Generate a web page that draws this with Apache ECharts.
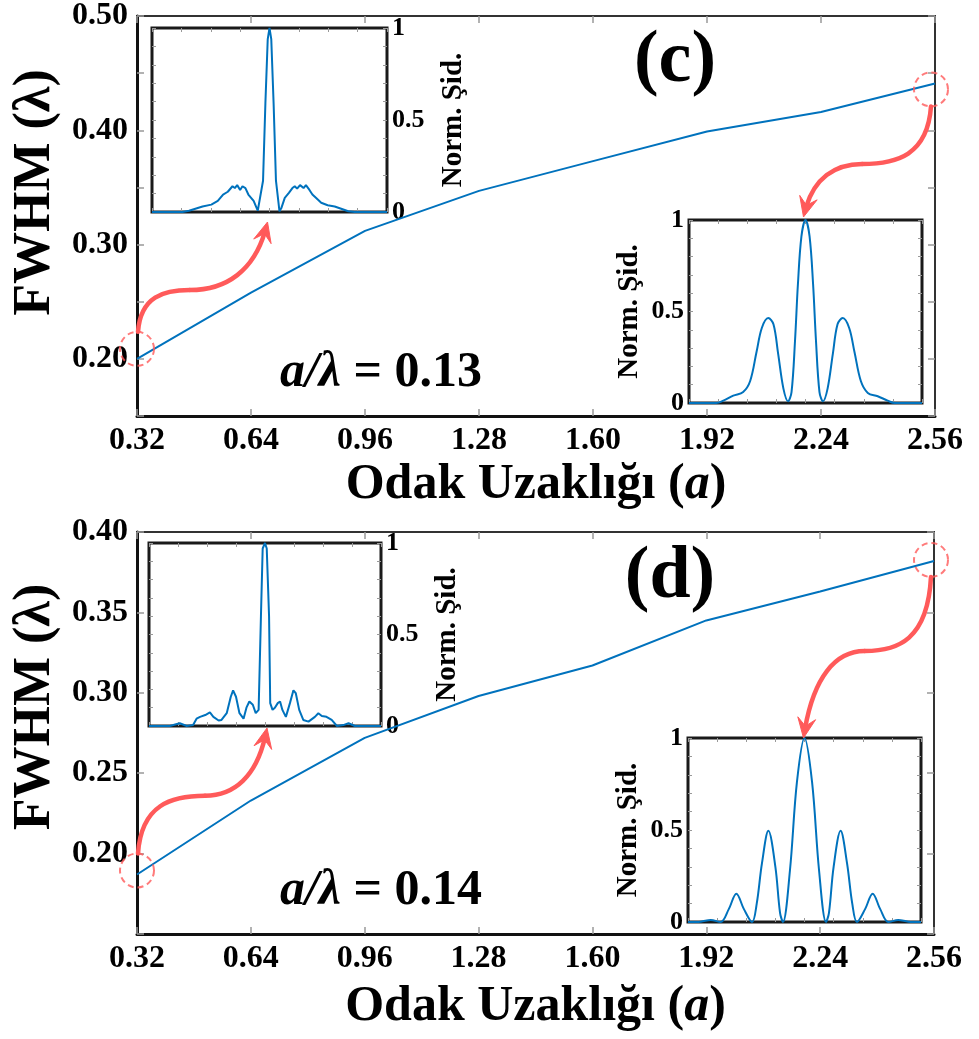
<!DOCTYPE html>
<html>
<head>
<meta charset="utf-8">
<title>FWHM - Odak Uzaklığı</title>
<script src="https://cdn.jsdelivr.net/npm/echarts@6/dist/echarts.min.js"></script>
<style>
  html, body { margin: 0; padding: 0; background: #fff; }
  #main { width: 979px; height: 1039px; }
</style>
</head>
<body>
<div id="main"></div>
<script>
// focal distance (a) and FWHM (lambda) for both panels
const focalDist = [0.32, 0.64, 0.96, 1.28, 1.60, 1.92, 2.24, 2.56];
const fwhmC = [0.200, 0.258, 0.312, 0.347, 0.373, 0.399, 0.416, 0.441];
const fwhmD = [0.187, 0.233, 0.272, 0.298, 0.317, 0.345, 0.363, 0.382];

// inset intensity profiles (normalised), x across the focal spot
const profC1X = [-2.0, -1.48, -1.37, -1.14, -0.99, -0.88, -0.79, -0.71, -0.63, -0.59, -0.55, -0.50, -0.46, -0.41, -0.36, -0.27, -0.20, -0.17, -0.11, -0.07, -0.03, 0,
                 0.03, 0.07, 0.11, 0.17, 0.20, 0.26, 0.33, 0.39, 0.43, 0.47, 0.52, 0.58, 0.62, 0.68, 0.73, 0.79, 0.88, 0.99, 1.11, 1.22, 1.34, 1.45, 2.0];
const profC1Y = [0, 0, 0.007, 0.03, 0.04, 0.06, 0.095, 0.11, 0.14, 0.13, 0.146, 0.12, 0.14, 0.13, 0.095, 0.06, 0.007, 0.004, 0.17, 0.59, 0.94, 1.0,
                 0.94, 0.59, 0.17, 0.004, 0.02, 0.077, 0.104, 0.13, 0.14, 0.127, 0.146, 0.13, 0.146, 0.12, 0.095, 0.077, 0.05, 0.037, 0.03, 0.018, 0.004, 0, 0];

const profC2X = [-2.0, -1.53, -1.41, -1.24, -1.07, -0.95, -0.84, -0.75, -0.64, -0.55, -0.47, -0.38, -0.30, -0.24, -0.18, -0.13, -0.07, 0,
                 0.07, 0.13, 0.18, 0.24, 0.30, 0.38, 0.47, 0.55, 0.64, 0.75, 0.84, 0.95, 1.07, 1.24, 1.41, 1.53, 2.0];
const profC2Y = [0, 0, 0.013, 0.04, 0.06, 0.12, 0.28, 0.41, 0.464, 0.43, 0.27, 0.08, 0.01, 0.06, 0.34, 0.65, 0.91, 1.0,
                 0.91, 0.65, 0.34, 0.06, 0.01, 0.08, 0.27, 0.43, 0.464, 0.41, 0.28, 0.12, 0.055, 0.037, 0.013, 0, 0];

const profD1X = [-2.0, -1.64, -1.58, -1.47, -1.35, -1.24, -1.18, -1.12, -1.03, -0.95, -0.89, -0.80, -0.75, -0.66, -0.59, -0.55, -0.50, -0.44, -0.37, -0.32, -0.27, -0.21, -0.16, -0.11, -0.07, -0.04, 0,
                 0.03, 0.07, 0.09, 0.13, 0.17, 0.22, 0.26, 0.30, 0.36, 0.43, 0.49, 0.53, 0.59, 0.66, 0.75, 0.86, 0.92, 0.98, 1.06, 1.15, 1.24, 1.35, 1.44, 1.55, 2.0];
const profD1Y = [0, 0, 0.005, 0.015, 0, 0.005, 0.04, 0.05, 0.06, 0.074, 0.05, 0.03, 0.033, 0.07, 0.16, 0.195, 0.16, 0.07, 0.04, 0.1, 0.134, 0.116, 0.07, 0.088, 0.6, 0.97, 1.0,
                 0.97, 0.6, 0.125, 0.088, 0.1, 0.125, 0.134, 0.088, 0.05, 0.125, 0.195, 0.18, 0.088, 0.033, 0.024, 0.05, 0.07, 0.055, 0.05, 0.033, 0, 0.005, 0.015, 0, 0];

const profD2X = [-2.0, -1.78, -1.61, -1.44, -1.30, -1.17, -1.04, -0.90, -0.82, -0.73, -0.62, -0.50, -0.42, -0.37, -0.25, -0.13, 0,
                 0.13, 0.25, 0.37, 0.42, 0.50, 0.62, 0.73, 0.82, 0.90, 1.04, 1.17, 1.30, 1.44, 1.61, 1.78, 2.0];
const profD2Y = [0, 0.002, 0.011, 0, 0.07, 0.154, 0.07, 0, 0.1, 0.32, 0.496, 0.3, 0.05, 0, 0.28, 0.76, 1.0,
                 0.76, 0.28, 0, 0.05, 0.3, 0.496, 0.32, 0.1, 0, 0.07, 0.154, 0.07, 0, 0.011, 0.002, 0];

const FONT = '"Liberation Serif", "Times New Roman", serif';
const BLUE = '#0072BD';
const RED = '#ff5a5a';

const grids = [
    {left: 137, top: 15, width: 798, height: 401},   // (c)
    {left: 152, top: 28, width: 235, height: 184},   // (c) inset left
    {left: 689, top: 220, width: 233, height: 183},  // (c) inset right
    {left: 137, top: 532, width: 797, height: 402},  // (d)
    {left: 149, top: 543, width: 232, height: 183},  // (d) inset left
    {left: 688, top: 738, width: 233, height: 184}   // (d) inset right
];

const xAxis = [], yAxis = [], series = [];
const bold = {fontFamily: FONT, fontWeight: 'bold', color: '#000'};
const noSplit = {show: false};

function mainPanel(gi, yMax, yFmt, values, xGap, namePad, offsets) {
    const xi = xAxis.length, yi = yAxis.length;
    const tick = {inside: true, length: 7, lineStyle: {color: '#999', width: 1.5}};
    xAxis.push({
        gridIndex: gi, type: 'value', min: 0.32, max: 2.56, interval: 0.32,
        name: 'Odak Uzaklığı ({i|a})', nameLocation: 'middle', nameGap: xGap,
        nameTextStyle: Object.assign({fontSize: 50, rich: {i: Object.assign({fontSize: 50, fontStyle: 'italic'}, bold)}}, bold),
        axisLine: {onZero: false, lineStyle: {color: '#111', width: 3}},
        axisTick: tick,
        axisLabel: Object.assign({fontSize: 32, margin: 9, formatter: v => v.toFixed(2)}, bold),
        splitLine: noSplit
    });
    xAxis.push({
        gridIndex: gi, type: 'value', position: 'top', min: 0.32, max: 2.56, interval: 0.32,
        axisLine: {onZero: false, lineStyle: {color: '#333', width: 2}}, axisTick: tick,
        axisLabel: {show: false}, splitLine: noSplit
    });
    yAxis.push({
        gridIndex: gi, type: 'value', min: 0.15, max: yMax, interval: 0.05,
        name: 'FWHM (λ)', nameLocation: 'middle', nameGap: 74,
        nameTextStyle: Object.assign({fontSize: 52, padding: [0, 0, 0, namePad]}, bold),
        axisLine: {onZero: false, lineStyle: {color: '#111', width: 3}},
        axisTick: tick,
        axisLabel: Object.assign({fontSize: 32, margin: 9, formatter: yFmt}, bold),
        splitLine: noSplit
    });
    yAxis.push({
        gridIndex: gi, type: 'value', position: 'right', min: 0.15, max: yMax, interval: 0.05,
        axisLine: {onZero: false, lineStyle: {color: '#333', width: 2}}, axisTick: tick,
        axisLabel: {show: false}, splitLine: noSplit
    });
    series.push({
        type: 'line', xAxisIndex: xi, yAxisIndex: yi, z: 3,
        data: focalDist.map((x, i) => [x, values[i]]),
        showSymbol: false, lineStyle: {color: BLUE, width: 2}
    });
    const last = focalDist.length - 1;
    series.push({
        type: 'scatter', xAxisIndex: xi, yAxisIndex: yi, z: 4, silent: true,
        symbol: 'circle', symbolSize: 34,
        itemStyle: {color: 'rgba(0,0,0,0)', borderColor: RED, borderWidth: 2, borderType: [6, 4]},
        data: [
            {value: [focalDist[0], values[0]], symbolOffset: offsets[0]},
            {value: [focalDist[last], values[last]], symbolOffset: offsets[1]}
        ]
    });
    return [xi, yi];
}

function insetPanel(gi, side, xs, ys, smooth) {
    const xi = xAxis.length, yi = yAxis.length;
    const tick = {inside: true, length: 4, lineStyle: {color: '#999', width: 1}};
    const other = side === 'right' ? 'left' : 'right';
    const hidden = {show: false, onZero: false};
    xAxis.push({gridIndex: gi, type: 'value', min: -2, max: 2, interval: 0.5,
        axisLine: hidden, axisTick: tick, axisLabel: {show: false}, splitLine: noSplit});
    xAxis.push({gridIndex: gi, type: 'value', position: 'top', min: -2, max: 2, interval: 0.5,
        axisLine: hidden, axisTick: tick, axisLabel: {show: false}, splitLine: noSplit});
    yAxis.push({
        gridIndex: gi, type: 'value', position: side, min: 0, max: 1, interval: 0.1,
        name: 'Norm. Şid.', nameLocation: 'middle', nameGap: side === 'right' ? 52 : 45,
        nameTextStyle: Object.assign({fontSize: 29}, bold),
        axisLine: hidden, axisTick: tick,
        axisLabel: Object.assign({fontSize: 26, margin: 5, showMinLabel: true, showMaxLabel: true,
            formatter: v => {
                const r = Math.round(v * 10);
                return r === 0 ? '0' : r === 5 ? '0.5' : r === 10 ? '1' : '';
            }}, bold),
        splitLine: noSplit
    });
    yAxis.push({gridIndex: gi, type: 'value', position: other, min: 0, max: 1, interval: 0.1,
        axisLine: hidden, axisTick: tick, axisLabel: {show: false}, splitLine: noSplit});
    series.push({
        type: 'line', xAxisIndex: xi, yAxisIndex: yi, z: 5,
        data: xs.map((x, i) => [x, ys[i]]),
        showSymbol: false, smooth: smooth, lineStyle: {color: BLUE, width: 2}
    });
}

const axC = mainPanel(0, 0.50, v => (Math.round(v * 100) % 10 === 0 ? v.toFixed(2) : ''), fwhmC, 44, 47, [[0, -10], [-4, 6]]);
insetPanel(1, 'right', profC1X, profC1Y, false);
insetPanel(2, 'left', profC2X, profC2Y, 0.35);
const axD = mainPanel(3, 0.40, v => (v < 0.19 ? '' : v.toFixed(2)), fwhmD, 48, 52, [[0, -4], [-3, -1]]);
insetPanel(4, 'right', profD1X, profD1Y, false);
insetPanel(5, 'left', profD2X, profD2Y, 0.35);

const chart = echarts.init(document.getElementById('main'), null, {renderer: 'canvas'});
chart.setOption({
    animation: false,
    backgroundColor: '#fff',
    grid: grids.map((g, i) => Object.assign({
        show: true,
        backgroundColor: '#fff',
        borderColor: (i === 0 || i === 3) ? '#333' : '#1a1a1a',
        borderWidth: (i === 0 || i === 3) ? 2 : 3
    }, g)),
    xAxis: xAxis,
    yAxis: yAxis,
    series: series
});

function textEl(text, x, y, size, rich) {
    return {
        type: 'text', x: x, y: y, z: 10,
        style: {
            text: text, fill: '#000',
            fontFamily: FONT, fontWeight: 'bold', fontSize: size,
            align: 'center', verticalAlign: 'middle',
            textAlign: 'center', textVerticalAlign: 'middle',
            rich: rich
        }
    };
}

const italicRich = {i: {fontFamily: FONT, fontWeight: 'bold', fontStyle: 'italic', fontSize: 50, fill: '#000'}};

function arrow(start, tip, ratio) {
    const P0 = start, T = tip;
    const M = [P0[0] + ratio[0] * (T[0] - P0[0]), P0[1] + ratio[1] * (T[1] - P0[1])];
    // direction at the tip, mostly vertical
    const c2raw = [T[0] - 0.15 * (T[0] - M[0]), T[1] - 0.65 * (T[1] - M[1])];
    let d = [T[0] - c2raw[0], T[1] - c2raw[1]];
    const len = Math.hypot(d[0], d[1]);
    d = [d[0] / len, d[1] / len];
    const n = [-d[1], d[0]];
    const E = [T[0] - d[0] * 10, T[1] - d[1] * 10];
    const lineStyle = {stroke: RED, lineWidth: 4.5, fill: null, lineCap: 'round'};
    return [
        {type: 'bezierCurve', z: 10, shape: {
            x1: P0[0], y1: P0[1], x2: M[0], y2: M[1],
            cpx1: P0[0] + 0.05 * (M[0] - P0[0]), cpy1: P0[1] + 0.85 * (M[1] - P0[1]),
            cpx2: M[0] - 0.5 * (M[0] - P0[0]), cpy2: M[1]
        }, style: lineStyle},
        {type: 'bezierCurve', z: 10, shape: {
            x1: M[0], y1: M[1], x2: E[0], y2: E[1],
            cpx1: M[0] + 0.5 * (E[0] - M[0]), cpy1: M[1],
            cpx2: E[0] - 0.15 * (E[0] - M[0]), cpy2: E[1] - 0.65 * (E[1] - M[1])
        }, style: lineStyle},
        {type: 'polygon', z: 11, shape: {points: [
            T,
            [T[0] - d[0] * 20 + n[0] * 9, T[1] - d[1] * 20 + n[1] * 9],
            [T[0] - d[0] * 12, T[1] - d[1] * 12],
            [T[0] - d[0] * 20 - n[0] * 9, T[1] - d[1] * 20 - n[1] * 9]
        ]}, style: {fill: RED, stroke: RED, lineWidth: 1}}
    ];
}

const last = focalDist.length - 1;
const toPx = (ax, v) => chart.convertToPixel({xAxisIndex: ax[0], yAxisIndex: ax[1]}, v);
const cL = toPx(axC, [focalDist[0], fwhmC[0]]);
const cR = toPx(axC, [focalDist[last], fwhmC[last]]);
const dL = toPx(axD, [focalDist[0], fwhmD[0]]);
const dR = toPx(axD, [focalDist[last], fwhmD[last]]);

const g1 = grids[1], g2 = grids[2], g4 = grids[4], g5 = grids[5];
const graphics = [
    textEl('(c)', 675, 62, 74),
    textEl('(d)', 670, 578, 74),
    textEl('{i|a/λ} = 0.13', 381, 373, 50, italicRich),
    textEl('{i|a/λ} = 0.14', 381, 891, 50, italicRich)
].concat(
    arrow([cL[0] + 1, cL[1] - 10 - 17], [g1.left + g1.width / 2 - 2, g1.top + g1.height + 10], [0.4, 0.38]),
    arrow([cR[0] - 4, cR[1] + 6 + 17], [g2.left + g2.width / 2 - 2, g2.top - 3], [0.54, 0.52]),
    arrow([dL[0] + 1, dL[1] - 4 - 17], [g4.left + g4.width / 2 + 2, g4.top + g4.height + 2], [0.52, 0.46]),
    arrow([dR[0] - 3, dR[1] - 1 + 17], [g5.left + g5.width / 2 - 1, g5.top], [0.52, 0.46])
);
chart.setOption({graphic: graphics});
</script>
</body>
</html>
